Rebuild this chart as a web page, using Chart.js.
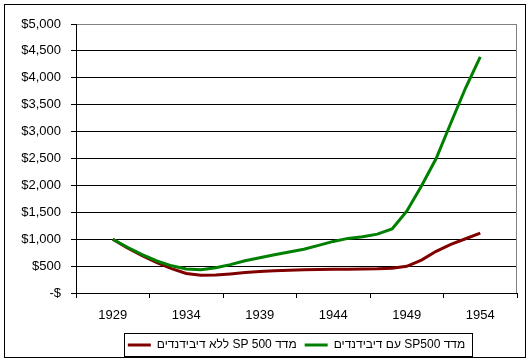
<!DOCTYPE html>
<html><head><meta charset="utf-8">
<script src="https://cdn.jsdelivr.net/npm/chart.js@4/dist/chart.umd.min.js"></script>
<style>html,body{margin:0;padding:0;background:#fff}</style>
</head><body><canvas id="c" width="530" height="364"></canvas>
<script>
const years = [1929,1930,1931,1932,1933,1934,1935,1936,1937,1938,1939,1940,1941,1942,1943,1944,1945,1946,1947,1948,1949,1950,1951,1952,1953,1954];
const withDividends = [1000,850,712,595,505,445,432,470,528,600,655,712,762,812,886,959,1015,1045,1094,1190,1520,1990,2500,3160,3810,4390];
const withoutDividends = [1000,836,694,565,454,362,332,335,355,380,400,412,422,430,436,441,443,445,450,462,497,612,775,904,1008,1113];
const xTickYears = [1929,1934,1939,1944,1949,1954];
const xBoundaryTicks = [1926.5,1931.5,1936.5,1941.5,1946.5,1951.5,1956.5];
const yMin = 0, yMax = 5000, yStep = 500;
const seriesNames = ['מדד SP500 עם דיבידנדים', 'מדד SP 500 ללא דיבידנדים'];
const seriesColors = ['#008000', '#800000'];

Chart.defaults.font.family = "'Liberation Sans', Arial, sans-serif";
Chart.defaults.font.size = 13;
Chart.defaults.color = '#000';

const framePlugin = {
  id: 'frame',
  beforeDraw(chart) {
    const c = chart.ctx;
    c.save();
    c.fillStyle = '#fff';
    c.fillRect(0, 0, chart.width, chart.height);
    c.strokeStyle = '#000';
    c.lineWidth = 1;
    c.strokeRect(4.5, 4.5, 521, 353);
    c.restore();
  },
  beforeDatasetsDraw(chart) {
    const a = chart.chartArea, c = chart.ctx;
    c.save();
    c.strokeStyle = '#808080';
    c.lineWidth = 1;
    c.beginPath();
    c.moveTo(Math.round(a.right) - 0.5, a.top);
    c.lineTo(Math.round(a.right) - 0.5, a.bottom);
    c.stroke();
    c.restore();
  },
  afterDraw(chart) {
    const lg = chart.legend;
    if (!lg || !lg.legendHitBoxes || !lg.legendHitBoxes.length) return;
    const hb = lg.legendHitBoxes;
    let l = Infinity, r = -Infinity, t = Infinity, b = -Infinity;
    hb.forEach(h => { l = Math.min(l, h.left); r = Math.max(r, h.left + h.width); t = Math.min(t, h.top); b = Math.max(b, h.top + h.height); });
    const c = chart.ctx;
    c.save();
    c.strokeStyle = '#000';
    c.lineWidth = 1;
    c.strokeRect(Math.round(l - 4) + 0.5, Math.round(t - 6) + 0.5, Math.round(r - l + 11), Math.round(b - t + 11));
    c.restore();
  }
};

new Chart(document.getElementById('c'), {
  type: 'line',
  data: {
    datasets: [
      { label: seriesNames[0], data: years.map((y, i) => ({x: y, y: withDividends[i]})), borderColor: seriesColors[0], backgroundColor: seriesColors[0], borderWidth: 3, pointRadius: 0, tension: 0, fill: false },
      { label: seriesNames[1], data: years.map((y, i) => ({x: y, y: withoutDividends[i]})), borderColor: seriesColors[1], backgroundColor: seriesColors[1], borderWidth: 3, pointRadius: 0, tension: 0, fill: false }
    ]
  },
  options: {
    responsive: false,
    animation: false,
    devicePixelRatio: 1,
    layout: { padding: { top: 24, right: 13, bottom: 3, left: 0 } },
    plugins: {
      tooltip: { enabled: false },
      legend: {
        position: 'bottom',
        fullSize: false,
        textDirection: 'rtl',
        labels: {
          usePointStyle: true,
          pointStyle: 'line',
          pointStyleWidth: 23,
          boxHeight: 12,
          padding: 8,
          color: '#000',
          font: { size: 12 },
          sort: (a, b) => b.datasetIndex - a.datasetIndex
        }
      }
    },
    scales: {
      x: {
        type: 'linear',
        min: 1926.5,
        max: 1956.5,
        afterBuildTicks: s => { s.ticks = xBoundaryTicks.concat(xTickYears).sort((a, b) => a - b).map(v => ({value: v})); },
        afterFit: s => { s.height = 38; },
        ticks: {
          autoSkip: false, maxRotation: 0, padding: 10,
          callback: v => xTickYears.includes(v) ? String(v) : ''
        },
        grid: {
          drawOnChartArea: false, drawTicks: true, tickLength: 5,
          tickColor: ctx => (ctx.tick && xTickYears.includes(ctx.tick.value)) ? 'rgba(0,0,0,0)' : '#000'
        },
        border: { color: '#000', width: 1 }
      },
      y: {
        min: yMin, max: yMax,
        afterFit: s => { s.width = 76; },
        ticks: {
          stepSize: yStep, padding: 10,
          callback: v => v === 0 ? '$-' : '$' + v.toLocaleString('en-US')
        },
        grid: {
          color: ctx => (ctx.tick && ctx.tick.value === yMax) ? '#808080' : '#000',
          tickColor: '#000', tickLength: 5, lineWidth: 1
        },
        border: { color: '#000', width: 1 }
      }
    }
  },
  plugins: [framePlugin]
});
</script>
</body></html>
